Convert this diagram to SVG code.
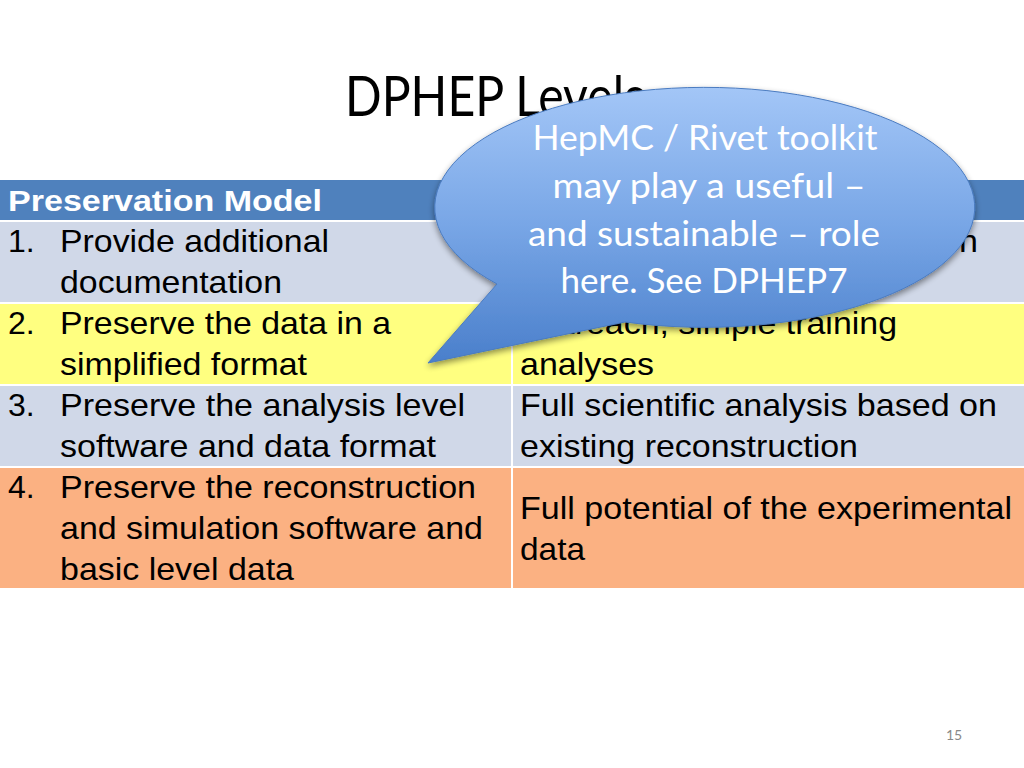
<svg xmlns="http://www.w3.org/2000/svg" width="1024" height="768" viewBox="0 0 1024 768">
<style>
.cell{font-family:"Liberation Sans",Arial,sans-serif;font-size:32px;fill:#000}
.hdr{font-family:"Liberation Sans",Arial,sans-serif;font-size:29px;font-weight:bold;fill:#fff}
.title{font-family:Lato,"Open Sans",sans-serif;font-size:56px;fill:#000}
.call{font-family:Lato,"Open Sans",sans-serif;font-size:35px;fill:#fff;text-anchor:middle}
</style>
<defs>
<linearGradient id="bg" x1="0" y1="0" x2="0" y2="1">
<stop offset="0" stop-color="#a3c6f7"/>
<stop offset="0.5" stop-color="#78a6e6"/>
<stop offset="1" stop-color="#4a7fcb"/>
</linearGradient>
<filter id="sh" x="-10%" y="-10%" width="120%" height="130%">
<feGaussianBlur in="SourceAlpha" stdDeviation="3"/>
<feOffset dx="0" dy="3" result="b"/>
<feComponentTransfer><feFuncA type="linear" slope="0.45"/></feComponentTransfer>
<feMerge><feMergeNode/><feMergeNode in="SourceGraphic"/></feMerge>
</filter>
</defs>
<rect width="1024" height="768" fill="#fff"/>
<text id="title" class="title" x="345" y="116" textLength="300" lengthAdjust="spacingAndGlyphs">DPHEP Levels</text>
<g id="table">
<rect x="0" y="180" width="1024" height="40" fill="#4f81bd"/>
<rect x="0" y="222" width="511" height="80" fill="#d0d8e8"/>
<rect x="513" y="222" width="511" height="80" fill="#d0d8e8"/>
<rect x="0" y="304" width="511" height="80" fill="#ffff80"/>
<rect x="513" y="304" width="511" height="80" fill="#ffff80"/>
<rect x="0" y="386" width="511" height="80" fill="#d0d8e8"/>
<rect x="513" y="386" width="511" height="80" fill="#d0d8e8"/>
<rect x="0" y="468" width="511" height="120" fill="#fbb182"/>
<rect x="513" y="468" width="511" height="120" fill="#fbb182"/>
<text class="hdr" x="8" y="211" textLength="314" lengthAdjust="spacingAndGlyphs">Preservation Model</text>
<g id="row1">
<text class="cell" x="8" y="252">1.</text>
<text class="cell" x="60" y="252" textLength="269" lengthAdjust="spacingAndGlyphs">Provide additional</text>
<text class="cell" x="60" y="293" textLength="222" lengthAdjust="spacingAndGlyphs">documentation</text>
<text class="cell" x="520" y="252" textLength="458" lengthAdjust="spacingAndGlyphs">Publication related information</text>
</g>
<g id="row2">
<text class="cell" x="8" y="334">2.</text>
<text class="cell" x="60" y="334" textLength="331" lengthAdjust="spacingAndGlyphs">Preserve the data in a</text>
<text class="cell" x="60" y="375" textLength="247" lengthAdjust="spacingAndGlyphs">simplified format</text>
<text class="cell" x="520" y="334" textLength="377" lengthAdjust="spacingAndGlyphs">Outreach, simple training</text>
<text class="cell" x="520" y="375" textLength="134" lengthAdjust="spacingAndGlyphs">analyses</text>
</g>
<g id="row3">
<text class="cell" x="8" y="416">3.</text>
<text class="cell" x="60" y="416" textLength="405" lengthAdjust="spacingAndGlyphs">Preserve the analysis level</text>
<text class="cell" x="60" y="457" textLength="376" lengthAdjust="spacingAndGlyphs">software and data format</text>
<text class="cell" x="520" y="416" textLength="477" lengthAdjust="spacingAndGlyphs">Full scientific analysis based on</text>
<text class="cell" x="520" y="457" textLength="338" lengthAdjust="spacingAndGlyphs">existing reconstruction</text>
</g>
<g id="row4">
<text class="cell" x="8" y="498">4.</text>
<text class="cell" x="60" y="498" textLength="416" lengthAdjust="spacingAndGlyphs">Preserve the reconstruction</text>
<text class="cell" x="60" y="539" textLength="423" lengthAdjust="spacingAndGlyphs">and simulation software and</text>
<text class="cell" x="60" y="580" textLength="234" lengthAdjust="spacingAndGlyphs">basic level data</text>
<text class="cell" x="520" y="519" textLength="492" lengthAdjust="spacingAndGlyphs">Full potential of the experimental</text>
<text class="cell" x="520" y="560" textLength="65" lengthAdjust="spacingAndGlyphs">data</text>
</g>
</g>
<g id="callout">
<path d="M497,284 A270,120 0 1 1 625,322 L428,363 Z" fill="url(#bg)" stroke="#4a7bc0" stroke-width="1" filter="url(#sh)"/>
<text class="call" x="705" y="150" textLength="345" lengthAdjust="spacingAndGlyphs">HepMC / Rivet toolkit</text>
<text class="call" x="709" y="198" textLength="313" lengthAdjust="spacingAndGlyphs">may play a useful –</text>
<text class="call" x="704" y="246" textLength="352" lengthAdjust="spacingAndGlyphs">and sustainable – role</text>
<text class="call" x="704" y="293" textLength="287" lengthAdjust="spacingAndGlyphs">here. See DPHEP7</text>
</g>
<text id="page" x="946" y="740" font-family="Lato,'Open Sans',sans-serif" font-size="14" fill="#888">15</text>
</svg>
